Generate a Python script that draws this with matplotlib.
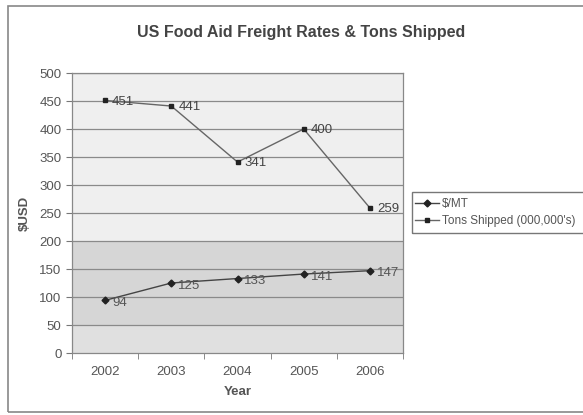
import matplotlib
matplotlib.use("Agg")
import matplotlib.pyplot as plt
from matplotlib.patches import Rectangle
from matplotlib.lines import Line2D

plt.rcParams['font.family'] = ['Liberation Sans', 'DejaVu Sans']

years = ["2002", "2003", "2004", "2005", "2006"]
rate_mt = [94, 125, 133, 141, 147]
tons_shipped = [451, 441, 341, 400, 259]
yticks = [0, 50, 100, 150, 200, 250, 300, 350, 400, 450, 500]

W, H = 583, 415
fig = plt.figure(figsize=(W / 100, H / 100), dpi=100)
fig.patch.set_facecolor("white")

# outer chart border (right side clipped as in scan)
fig.add_artist(Rectangle((8 / W, 1 - 412 / H), 1.0, (412 - 6) / H,
                         transform=fig.transFigure, fill=False,
                         edgecolor="#888888", lw=1.2))

ax = fig.add_axes([72 / W, 1 - 353 / H, (403 - 72) / W, (353 - 73) / H])
ax.set_facecolor("#efefef")
ax.axhspan(50, 200, color="#d6d6d6", zorder=0, lw=0)
ax.axhspan(0, 50, color="#e0e0e0", zorder=0, lw=0)

x = list(range(len(years)))
ax.set_xlim(-0.5, len(years) - 0.5)
ax.set_ylim(0, 500)
ax.set_yticks(yticks)
ax.set_xticks(x)
ax.set_xticklabels(years)
for y in yticks[1:]:
    ax.axhline(y, color="#8a8a8a", lw=0.9, zorder=1)

ax.plot(x, rate_mt, color="#444444", lw=1.0, marker="D", ms=3.5,
        mfc="#222222", mec="#222222", zorder=3)
ax.plot(x, tons_shipped, color="#666666", lw=1.0, marker="s", ms=3.5,
        mfc="#222222", mec="#222222", zorder=3)

for xi, v in zip(x, rate_mt):
    ax.annotate(str(v), (xi, v), xytext=(5, -2), textcoords="offset points",
                ha="left", va="center", fontsize=9.5, color="#555555", zorder=4)
for xi, v in zip(x, tons_shipped):
    ax.annotate(str(v), (xi, v), xytext=(5, -1), textcoords="offset points",
                ha="left", va="center", fontsize=9.5, color="#444444", zorder=4)

# x tick marks between categories
ax.set_xticks([i - 0.5 for i in range(len(years) + 1)], minor=True)
ax.tick_params(axis="x", which="major", length=0, labelsize=9.5,
               labelcolor="#555555", pad=9)
ax.tick_params(axis="x", which="minor", length=4, color="#777777")
ax.tick_params(axis="y", length=4, color="#777777", labelsize=9.5,
               labelcolor="#555555")
for s in ax.spines.values():
    s.set_color("#888888")
    s.set_linewidth(0.9)

ax.set_xlabel("Year", fontsize=9.5, fontweight="bold", color="#555555", labelpad=6)
ax.set_ylabel("$USD", fontsize=9.5, fontweight="bold", color="#555555", labelpad=6)

fig.text(301 / W, 1 - 33 / H, "US Food Aid Freight Rates & Tons Shipped",
         ha="center", va="center", fontsize=11.5, fontweight="bold", color="#444444")

# legend box (clipped at right edge)
fig.add_artist(Rectangle((412 / W, 1 - 233 / H), 1.0, (233 - 192) / H,
                         transform=fig.transFigure, fill=False,
                         edgecolor="#777777", lw=1.0))
handles = [
    Line2D([0], [0], color="#444444", lw=1.0, marker="D", ms=3.5,
           mfc="#222222", mec="#222222"),
    Line2D([0], [0], color="#666666", lw=1.0, marker="s", ms=3.5,
           mfc="#222222", mec="#222222"),
]
labels = ["$/MT", "Tons Shipped (000,000's)"]
leg = fig.legend(handles, labels, loc="center left",
                 bbox_to_anchor=(415 / W, 1 - 212.5 / H), frameon=False,
                 fontsize=8.5, handlelength=2.0, handletextpad=0.3,
                 labelspacing=0.45, borderaxespad=0, borderpad=0)
for t in leg.get_texts():
    t.set_color("#555555")

fig.savefig("out.png", dpi=100)
